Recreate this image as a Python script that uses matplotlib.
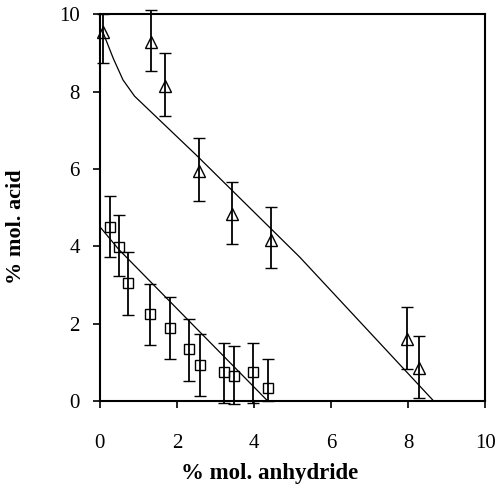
import matplotlib
matplotlib.use("Agg")
import matplotlib.pyplot as plt
import numpy as np

# Triangles (acid vs anhydride, series 1)
tri_x = [0.08, 1.32, 1.69, 2.57, 3.43, 4.44, 7.97, 8.29]
tri_y = [9.53, 9.28, 8.14, 5.94, 4.83, 4.16, 1.60, 0.85]
tri_err_lo = [0.80, 0.75, 0.78, 0.78, 0.77, 0.72, 0.77, 0.77]
tri_err_hi = [0.47, 0.82, 0.85, 0.85, 0.82, 0.85, 0.83, 0.83]

# Squares (series 2)
sq_x = [0.26, 0.49, 0.73, 1.30, 1.82, 2.31, 2.60, 3.22, 3.48, 3.97, 4.36]
sq_y = [4.50, 3.98, 3.05, 2.24, 1.88, 1.35, 0.93, 0.75, 0.65, 0.75, 0.33]
sq_err_lo = [0.77, 0.75, 0.83, 0.79, 0.80, 0.83, 0.80, 0.80, 0.73, 0.80, 0.33]
sq_err_hi = [0.80, 0.82, 0.80, 0.78, 0.80, 0.77, 0.80, 0.75, 0.77, 0.75, 0.75]

# Fitted curves
fit1_x = [0.08, 0.35, 0.60, 0.90, 2.50, 5.19, 8.65]
fit1_y = [9.53, 8.85, 8.30, 7.88, 6.36, 3.72, 0.02]
fit2_x = [0.03, 0.49, 4.36]
fit2_y = [4.47, 3.92, 0.00]

xticks = [0, 2, 4, 6, 8, 10]
yticks = [0, 2, 4, 6, 8, 10]

plt.rcParams['font.family'] = ['Liberation Serif', 'DejaVu Serif']

fig = plt.figure(figsize=(4.97, 4.88), dpi=100)
ax = fig.add_axes([0.201, 0.178, 0.775, 0.793])

ax.plot(fit1_x, fit1_y, color='black', lw=0.9, clip_on=False)
ax.plot(fit2_x, fit2_y, color='black', lw=0.9, clip_on=False)

ax.errorbar(tri_x, tri_y, yerr=[tri_err_lo, tri_err_hi], fmt='^', ms=8,
            mfc='none', mec='black', mew=1.0, ecolor='black', elinewidth=1.3,
            capsize=4, capthick=1.3, clip_on=False)
ax.errorbar(sq_x, sq_y, yerr=[sq_err_lo, sq_err_hi], fmt='s', ms=7.5,
            mfc='none', mec='black', mew=1.0, ecolor='black', elinewidth=1.3,
            capsize=4, capthick=1.3, clip_on=False)

ax.set_xlim(0, 10)
ax.set_ylim(0, 10)
ax.set_xticks(xticks)
ax.set_yticks(yticks)
ax.tick_params(direction='out', length=5, width=1.2, labelsize=15)
ax.tick_params(axis='x', pad=19)
ax.tick_params(axis='y', pad=9.5)
for s in ax.spines.values():
    s.set_linewidth(1.5)

ax.set_xlabel('% mol. anhydride', fontsize=16.5, fontweight='bold')
ax.set_ylabel('% mol. acid', fontsize=16, fontweight='bold')
ax.xaxis.set_label_coords(0.44, -0.160)
ax.yaxis.set_label_coords(-0.192, 0.452)

fig.savefig('out.png', dpi=100)
